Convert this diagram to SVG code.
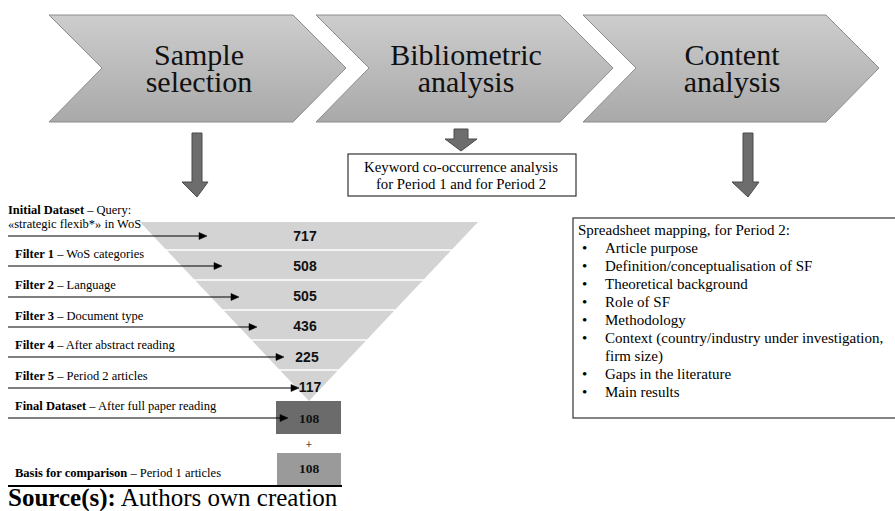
<svg xmlns="http://www.w3.org/2000/svg" width="895" height="511" viewBox="0 0 895 511">
<defs>
<linearGradient id="chev" x1="0" y1="0" x2="0" y2="1">
<stop offset="0" stop-color="#cdcdcd"/>
<stop offset="1" stop-color="#a9a9a9"/>
</linearGradient>
<style>
.chev{fill:url(#chev);stroke:#8c8c8c;stroke-width:1}
.serif{font-family:'Liberation Serif','Times New Roman',serif}
.big{font-size:30px;fill:#111;text-anchor:middle}
.down{fill:#6d6d6d;stroke:#4a4a4a;stroke-width:1}
.box{fill:#fff;stroke:#333;stroke-width:1.2}
.t{fill:#000}
.lbl{font-size:12.5px;fill:#000}
.num{font-family:'Liberation Sans',Arial,sans-serif;font-weight:bold;font-size:14px;fill:#111;text-anchor:middle}
.numb{font-weight:bold;font-size:13.5px;fill:#111;text-anchor:middle}
.arr{stroke:#000;stroke-width:1.1;fill:none}
.ah{fill:#000;stroke:#000;stroke-width:0.5}
.sep{stroke:#fff;stroke-width:1.5}
</style>
</defs>

<g id="chevron-sample" class="serif">
<polygon class="chev" points="49,15 293,15 346,68 293,122 49,122 102,68"/>
<text class="big" x="199" y="65">Sample</text>
<text class="big" x="199" y="92">selection</text>
</g>
<g id="chevron-biblio" class="serif">
<polygon class="chev" points="316,15 560,15 613,68 560,122 316,122 369,68"/>
<text class="big" x="466" y="65">Bibliometric</text>
<text class="big" x="466" y="92">analysis</text>
</g>
<g id="chevron-content" class="serif">
<polygon class="chev" points="583,15 826,15 879,68 826,122 583,122 636,68"/>
<text class="big" x="732" y="65">Content</text>
<text class="big" x="732" y="92">analysis</text>
</g>

<g id="keyword-box" class="serif">
<rect class="box" x="348" y="154" width="228" height="42"/>
<text class="t" font-size="14.8" text-anchor="middle" x="461" y="172">Keyword co-occurrence analysis</text>
<text class="t" font-size="14.8" text-anchor="middle" x="461" y="189">for Period 1 and for Period 2</text>
</g>

<g id="spreadsheet-box" class="serif">
<rect class="box" x="573" y="218" width="325" height="200"/>
<g font-size="15" class="t">
<text x="578" y="235">Spreadsheet mapping, for Period 2:</text>
<text x="582" y="253">•</text><text x="605" y="253">Article purpose</text>
<text x="582" y="271">•</text><text x="605" y="271">Definition/conceptualisation of SF</text>
<text x="582" y="289">•</text><text x="605" y="289">Theoretical background</text>
<text x="582" y="307">•</text><text x="605" y="307">Role of SF</text>
<text x="582" y="325">•</text><text x="605" y="325">Methodology</text>
<text x="582" y="343">•</text><text x="605" y="343">Context (country/industry under investigation,</text>
<text x="605" y="361">firm size)</text>
<text x="582" y="379">•</text><text x="605" y="379">Gaps in the literature</text>
<text x="582" y="397">•</text><text x="605" y="397">Main results</text>
</g>
</g>

<g id="funnel">
<polygon points="140,222 478,222 309,401" fill="#d3d3d3"/>
<line class="sep" x1="160" y1="250" x2="470" y2="250"/>
<line class="sep" x1="180" y1="280" x2="450" y2="280"/>
<line class="sep" x1="200" y1="310" x2="430" y2="310"/>
<line class="sep" x1="230" y1="340" x2="400" y2="340"/>
<line class="sep" x1="260" y1="370" x2="360" y2="370"/>
<text class="num" x="305" y="241">717</text>
<text class="num" x="305" y="271">508</text>
<text class="num" x="305" y="301">505</text>
<text class="num" x="305" y="331">436</text>
<text class="num" x="307" y="362">225</text>
<text class="num" x="310" y="392">117</text>
</g>

<g id="labels" class="serif">
<text class="lbl" x="8" y="214"><tspan font-weight="bold">Initial Dataset</tspan> – Query:</text>
<text class="lbl" x="8" y="228">«strategic flexib*» in WoS</text>
<text class="lbl" x="15" y="258"><tspan font-weight="bold">Filter 1</tspan> – WoS categories</text>
<text class="lbl" x="15" y="289"><tspan font-weight="bold">Filter 2</tspan> – Language</text>
<text class="lbl" x="15" y="320"><tspan font-weight="bold">Filter 3</tspan> – Document type</text>
<text class="lbl" x="15" y="349"><tspan font-weight="bold">Filter 4</tspan> – After abstract reading</text>
<text class="lbl" x="15" y="380"><tspan font-weight="bold">Filter 5</tspan> – Period 2 articles</text>
<text class="lbl" x="15" y="410"><tspan font-weight="bold">Final Dataset</tspan> – After full paper reading</text>
<text class="lbl" x="15" y="477"><tspan font-weight="bold">Basis for comparison</tspan> – Period 1 articles</text>
</g>

<g id="final-dataset" class="serif">
<rect x="276" y="401" width="65" height="33" fill="#6b6b6b"/>
<text class="numb" x="309" y="423">108</text>
</g>
<text class="t serif" font-size="12" text-anchor="middle" x="309" y="449">+</text>
<g id="basis" class="serif">
<rect x="277" y="453" width="64" height="32" fill="#9a9a9a"/>
<text class="numb" x="309" y="473">108</text>
</g>
<line x1="8" y1="486" x2="342" y2="486" stroke="#000" stroke-width="2"/>

<g id="connectors">
<polygon class="down" points="192,133 202,133 202,182 208,182 197,197 182,182 192,182"/>
<polygon class="down" points="454,129 468,129 468,139 477,139 461,151 445,139 454,139"/>
<polygon class="down" points="743,133 753,133 753,182 759,182 748,197 732,182 743,182"/>
<path class="arr" d="M8,236 H200"/><path class="ah" d="M207,236 l-8,-3.5 v7 z"/>
<path class="arr" d="M8,266 H215"/><path class="ah" d="M222,266 l-8,-3.5 v7 z"/>
<path class="arr" d="M8,297 H232"/><path class="ah" d="M239,297 l-8,-3.5 v7 z"/>
<path class="arr" d="M8,327 H250"/><path class="ah" d="M257,327 l-8,-3.5 v7 z"/>
<path class="arr" d="M8,357 H277"/><path class="ah" d="M284,357 l-8,-3.5 v7 z"/>
<path class="arr" d="M8,388 H292"/><path class="ah" d="M299,388 l-8,-3.5 v7 z"/>
<path class="arr" d="M8,418 H281"/><path class="ah" d="M288,418 l-8,-3.5 v7 z"/>
</g>

<text class="t serif" font-size="25" x="8" y="506"><tspan font-weight="bold">Source(s):</tspan> Authors own creation</text>
</svg>
